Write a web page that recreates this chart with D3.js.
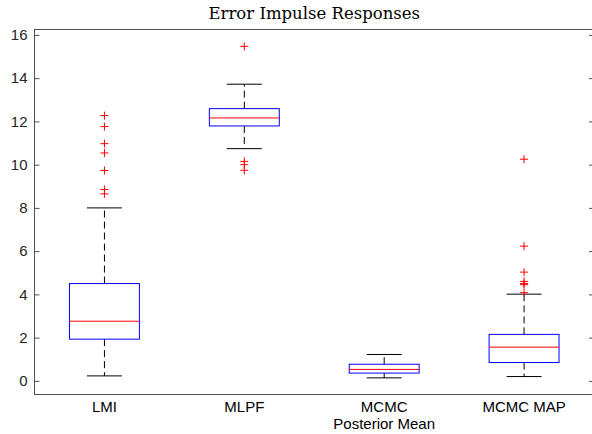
<html>
<head>
<meta charset="utf-8">
<script src="https://d3js.org/d3.v7.min.js"></script>
<style>
  body { margin: 0; background: #fff; }
</style>
</head>
<body>
<div id="chart"></div>
<script>
  // data
  const categories = [["LMI"], ["MLPF"], ["MCMC", "Posterior Mean"], ["MCMC MAP"]];
  const q1 = [1.93, 11.79, 0.36, 0.85];
  const medians = [2.76, 12.16, 0.53, 1.56];
  const q3 = [4.50, 12.59, 0.77, 2.15];
  const whiskerLow = [0.23, 10.74, 0.14, 0.20];
  const whiskerHigh = [8.00, 13.72, 1.22, 4.01];
  const outliers = [
    [12.27, 11.76, 10.97, 10.54, 9.73, 8.85, 8.65],
    [15.47, 10.15, 10.00, 9.74],
    [],
    [10.25, 6.23, 5.03, 4.60, 4.50, 4.45, 4.08]
  ];
  const yTicks = [0, 2, 4, 6, 8, 10, 12, 14, 16];

  let width = 592;
  let height = 434;
  let mLeft = 34.5, mRight = 594, mTop = 29.5, mBottom = 394.5;

  let svg = d3.select("#chart").append("svg")
    .attr("width", width)
    .attr("height", height);

  let x = d3.scaleLinear().domain([0.5, 4.5]).range([mLeft, mRight]);
  let y = d3.scaleLinear().domain([-0.63, 16.25]).range([mBottom, mTop]);

  let axisColor = "#262626";

  // box frame
  svg.append("rect")
    .attr("x", mLeft).attr("y", mTop)
    .attr("width", mRight - mLeft).attr("height", mBottom - mTop)
    .style("fill", "none").style("stroke", axisColor).style("stroke-width", 0.8);

  // left axis, ticks inward
  let gy = svg.append("g")
    .attr("transform", "translate(" + mLeft + ",0)")
    .call(d3.axisLeft(y).tickValues(yTicks).tickSizeInner(-5).tickSizeOuter(0).tickPadding(7));
  gy.select(".domain").remove();
  gy.selectAll("line").style("stroke", axisColor).style("stroke-width", 0.8);
  gy.selectAll("text")
    .style("font-family", "Liberation Sans, Arial, sans-serif")
    .style("font-size", "15px")
    .style("fill", axisColor);

  // right axis ticks only
  let gr = svg.append("g")
    .attr("transform", "translate(" + mRight + ",0)")
    .call(d3.axisRight(y).tickValues(yTicks).tickSizeInner(-5).tickSizeOuter(0).tickFormat(""));
  gr.select(".domain").remove();
  gr.selectAll("line").style("stroke", axisColor).style("stroke-width", 0.8);

  // category labels, one text per line
  let labelLines = [];
  categories.forEach((lines, i) => lines.forEach((t, j) => labelLines.push({ pos: i + 1, line: j, text: t })));
  svg.append("g")
    .selectAll("text")
    .data(labelLines)
    .enter()
    .append("text")
      .attr("x", d => x(d.pos))
      .attr("y", d => 411.5 + d.line * 17)
      .attr("text-anchor", "middle")
      .style("font-family", "Liberation Sans, Arial, sans-serif")
      .style("font-size", "15px")
      .style("fill", "#000")
      .text(d => d.text);

  // title
  svg.append("text")
    .attr("x", (mLeft + mRight) / 2)
    .attr("y", 19)
    .attr("text-anchor", "middle")
    .style("font-family", "DejaVu Serif, serif")
    .style("font-size", "16.5px")
    .style("fill", "#000")
    .text("Error Impulse Responses");

  let idx = d3.range(categories.length);
  let boxes = svg.append("g");

  // whiskers (dashed)
  boxes.selectAll(".wup").data(idx).enter().append("line")
    .attr("x1", i => x(i + 1)).attr("x2", i => x(i + 1))
    .attr("y1", i => y(q3[i])).attr("y2", i => y(whiskerHigh[i]))
    .style("stroke", "#000").style("stroke-dasharray", "7,4").style("stroke-width", 1);
  boxes.selectAll(".wlo").data(idx).enter().append("line")
    .attr("x1", i => x(i + 1)).attr("x2", i => x(i + 1))
    .attr("y1", i => y(q1[i])).attr("y2", i => y(whiskerLow[i]))
    .style("stroke", "#000").style("stroke-dasharray", "7,4").style("stroke-width", 1);

  // caps
  let capW = x(1.125) - x(1);
  [whiskerHigh, whiskerLow].forEach(function(arr) {
    boxes.selectAll(null).data(idx).enter().append("line")
      .attr("x1", i => x(i + 1) - capW).attr("x2", i => x(i + 1) + capW)
      .attr("y1", i => y(arr[i])).attr("y2", i => y(arr[i]))
      .style("stroke", "#000").style("stroke-width", 1);
  });

  // boxes
  let boxW = x(1.25) - x(1);
  boxes.selectAll("rect").data(idx).enter().append("rect")
    .attr("x", i => x(i + 1) - boxW)
    .attr("width", 2 * boxW)
    .attr("y", i => y(q3[i]))
    .attr("height", i => y(q1[i]) - y(q3[i]))
    .style("fill", "none").style("stroke", "#0000ff").style("stroke-width", 1);

  // medians
  boxes.selectAll(".med").data(idx).enter().append("line")
    .attr("x1", i => x(i + 1) - boxW).attr("x2", i => x(i + 1) + boxW)
    .attr("y1", i => y(medians[i])).attr("y2", i => y(medians[i]))
    .style("stroke", "#ff0000").style("stroke-width", 1);

  // outliers as red plus marks
  let pts = [];
  outliers.forEach((arr, i) => arr.forEach(v => pts.push([i + 1, v])));
  let s = 4;
  boxes.selectAll(".out").data(pts).enter().append("path")
    .attr("d", d => {
      let px = x(d[0]), py = y(d[1]);
      return "M" + (px - s) + "," + py + "H" + (px + s) + "M" + px + "," + (py - s) + "V" + (py + s);
    })
    .style("stroke", "#ff0000").style("stroke-width", 1).style("fill", "none");
</script>
</body>
</html>
